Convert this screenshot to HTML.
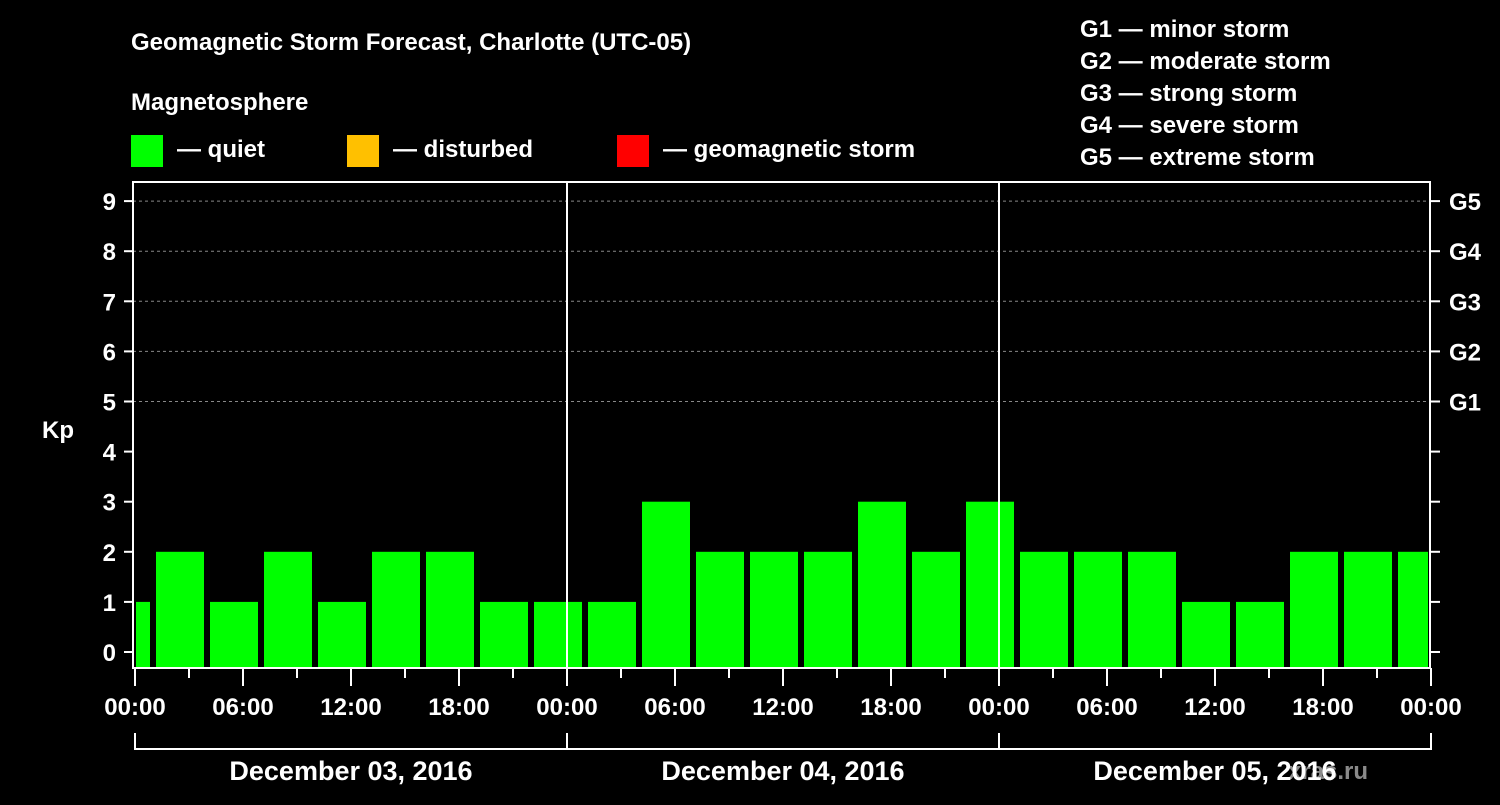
<!DOCTYPE html>
<html><head><meta charset="utf-8"><style>
body{margin:0;background:#000;width:1500px;height:800px;overflow:hidden;font-family:"Liberation Sans",sans-serif;font-weight:bold;color:#fff}
svg text{font-family:"Liberation Sans",sans-serif;font-weight:bold;fill:#fff}
</style></head><body>
<svg id="c" width="1500" height="800">
<text x="131" y="50" font-size="24">Geomagnetic Storm Forecast, Charlotte (UTC-05)</text>
<text x="131" y="110" font-size="24">Magnetosphere</text>
<g><rect x="131" y="135" width="32" height="32" fill="#00ff00"/><text x="177" y="157" font-size="24">— quiet</text></g>
<g><rect x="347" y="135" width="32" height="32" fill="#ffc000"/><text x="393" y="157" font-size="24">— disturbed</text></g>
<g><rect x="617" y="135" width="32" height="32" fill="#ff0000"/><text x="663" y="157" font-size="24">— geomagnetic storm</text></g>
<g font-size="24">
<text x="1080" y="37">G1 — minor storm</text><text x="1080" y="69">G2 — moderate storm</text><text x="1080" y="101">G3 — strong storm</text><text x="1080" y="133">G4 — severe storm</text><text x="1080" y="165">G5 — extreme storm</text></g>
<text x="42" y="438" font-size="24">Kp</text>
<text x="1288" y="779" font-size="24" fill="#808080" style="fill:#8a8a8a">xras.ru</text>
<g id="grid"></g><g id="bars"></g><g id="axes"></g>
</svg>
<script>
const kpValues=[1,2,1,2,1,2,2,1,1,1,3,2,2,2,3,2,3,2,2,2,1,1,2,2,2];
const blockStartHours=[-2,1,4,7,10,13,16,19,22,25,28,31,34,37,40,43,46,49,52,55,58,61,64,67,70];
const yTicks=[0,1,2,3,4,5,6,7,8,9];
const gLabels=["","","","","","G1","G2","G3","G4","G5"];
const xTickLabels=["00:00","06:00","12:00","18:00","00:00","06:00","12:00","18:00","00:00","06:00","12:00","18:00","00:00"];
const dayLabels=["December 03, 2016","December 04, 2016","December 05, 2016"];
const NS="http://www.w3.org/2000/svg";
const L=133,R=1430,T=182,B=668;
const xs=h=>135+h*18.0;
const ys=v=>652-v*50.1;
function mk(p,t,a){const e=document.createElementNS(NS,t);for(const k in a)e.setAttribute(k,a[k]);document.getElementById(p).appendChild(e);return e;}
yTicks.forEach(v=>{if(v>=5){const e=mk('grid','line',{x1:L,x2:R,y1:ys(v),y2:ys(v),stroke:'#888','stroke-dasharray':'3,3','stroke-width':1});

}});
kpValues.forEach((v,i)=>{const h=blockStartHours[i];let x0=Math.max(xs(h)+3,L+3),x1=Math.min(xs(h+3)-3,R-2);
const r=mk('bars','rect',{x:x0,y:ys(v),width:x1-x0,height:B-ys(v),fill:'#00ff00'});

});
const b=mk('axes','rect',{x:L,y:T,width:R-L,height:B-T,fill:'none',stroke:'#fff','stroke-width':2});


[1,2].forEach(d=>{const e=mk('axes','line',{x1:xs(24*d),x2:xs(24*d),y1:T,y2:B,stroke:'#fff','stroke-width':2});

});
yTicks.forEach(v=>{mk('axes','line',{x1:124,x2:L,y1:ys(v),y2:ys(v),stroke:'#fff','stroke-width':2});
mk('axes','line',{x1:R,x2:1440,y1:ys(v),y2:ys(v),stroke:'#fff','stroke-width':2});
const t=mk('axes','text',{x:116,y:ys(v)+9,'font-size':24,'text-anchor':'end'});t.textContent=v;


if(gLabels[v]){const g=mk('axes','text',{x:1449,y:ys(v)+9,'font-size':24});g.textContent=gLabels[v];

}});
for(let h=0;h<=72;h+=3){const big=h%6==0;mk('axes','line',{x1:xs(h),x2:xs(h),y1:B,y2:B+(big?18:10),stroke:'#fff','stroke-width':2});}
xTickLabels.forEach((s,i)=>{const t=mk('axes','text',{x:xs(i*6),y:715,'font-size':24,'text-anchor':'middle'});t.textContent=s;

});
mk('axes','line',{x1:xs(0),x2:xs(72),y1:749,y2:749,stroke:'#fff','stroke-width':2});
[0,24,48,72].forEach(h=>mk('axes','line',{x1:xs(h),x2:xs(h),y1:733,y2:750,stroke:'#fff','stroke-width':2}));
dayLabels.forEach((s,i)=>{const t=mk('axes','text',{x:xs(24*i+12),y:780,'font-size':27,'text-anchor':'middle'});t.textContent=s;

});
</script>
</body></html>
